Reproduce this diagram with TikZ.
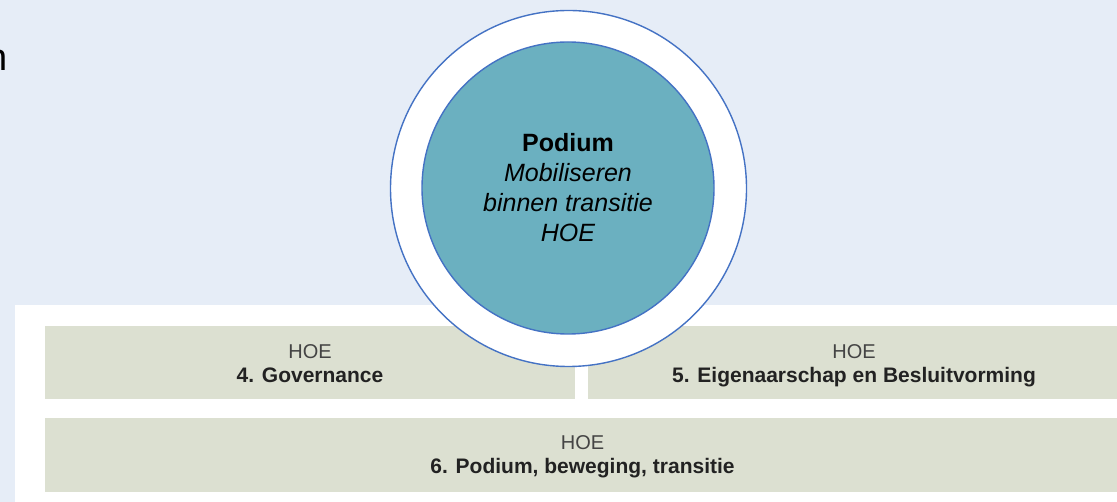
\documentclass[tikz,border=0pt]{standalone}
\usepackage{fontspec}
\setmainfont{Liberation Sans}
\definecolor{bgblue}{HTML}{E6EDF7}
\definecolor{boxgreen}{HTML}{DCE0D1}
\definecolor{ringblue}{HTML}{4472C4}
\definecolor{podiumteal}{HTML}{6BB0C0}
\definecolor{hoegrey}{HTML}{444444}
\definecolor{titlegrey}{HTML}{222222}
\begin{document}
\begin{tikzpicture}[x=1pt, y=-1pt]
    \tikzstyle{hoe_box}=[fill=boxgreen, inner sep=0pt]
    \tikzstyle{hoe_text}=[inner sep=0pt, align=center, text=hoegrey, font=\fontsize{20}{24}\selectfont, yshift=-3pt]
    \tikzstyle{ring_style}=[circle, draw=ringblue, line width=1.4pt, inner sep=0pt]
    \newcommand{\boxtitle}[1]{{\color{titlegrey}\fontsize{21}{24}\selectfont\bfseries #1\vphantom{g}}}

    \useasboundingbox (0,0) rectangle (1117,502);
    \fill[bgblue] (0,0) rectangle (1117,502);

    % --- cut-off word at the left edge ---
    \node[anchor=base east, inner sep=0pt, font=\fontsize{38}{40}\selectfont] (cut) at (7.5,71) {n};

    % --- panel with the HOE boxes ---
    \fill[white] (15,305) rectangle (1117,502);
    \node[hoe_box, minimum width=530pt, minimum height=73pt] (gov) at (310,362.5) {};
    \node[hoe_box, minimum width=532pt, minimum height=73pt] (eigen) at (854,362.5) {};
    \node[hoe_box, minimum width=1075pt, minimum height=74pt] (beweging) at (582.5,455) {};
    \node[hoe_text] (gov_text) at (gov.center) {HOE\\\boxtitle{4. Governance}};
    \node[hoe_text] (eigen_text) at (eigen.center) {HOE\\\boxtitle{5. Eigenaarschap en Besluitvorming}};
    \node[hoe_text, yshift=1pt] (beweging_text) at (beweging.center) {HOE\\\boxtitle{6. Podium, beweging, transitie}};

    % --- Podium circle ---
    \node[ring_style, fill=white, minimum size=356pt] (ring) at (568.5,188.5) {};
    \node[ring_style, fill=podiumteal, minimum size=292pt, align=center, font=\fontsize{25}{30}\selectfont] (podium) at (568,188)
      {\textbf{Podium}\\\textit{Mobiliseren}\\\textit{binnen transitie}\\\textit{HOE}};
\end{tikzpicture}
\end{document}
